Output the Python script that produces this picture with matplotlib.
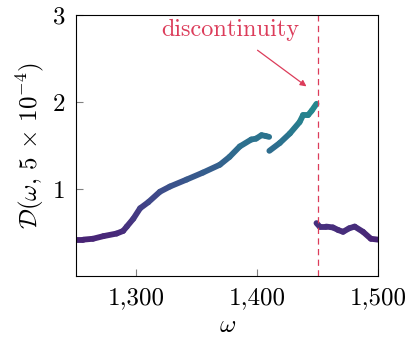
import matplotlib
matplotlib.use("Agg")
import matplotlib.pyplot as plt
import numpy as np
from matplotlib.collections import LineCollection
from matplotlib.ticker import FuncFormatter

plt.rcParams['font.family'] = 'cmr10'
plt.rcParams['mathtext.fontset'] = 'cm'
plt.rcParams['axes.unicode_minus'] = False
plt.rcParams['axes.formatter.use_mathtext'] = True

# three pieces of the curve
omega_a = [1250, 1256, 1264, 1272.6, 1283.6, 1289, 1292, 1297.4, 1303, 1309.8, 1319.4,
           1327.7, 1341.5, 1355, 1369, 1377, 1385.5, 1395, 1399, 1403.5, 1407, 1409.8]
d_a = [0.42, 0.42, 0.43, 0.46, 0.49, 0.52, 0.57, 0.66, 0.78, 0.85, 0.97,
       1.03, 1.11, 1.19, 1.28, 1.37, 1.49, 1.57, 1.58, 1.62, 1.61, 1.60]
omega_b = [1410, 1418.6, 1427, 1435, 1437.9, 1442, 1445, 1449]
d_b = [1.44, 1.53, 1.64, 1.77, 1.85, 1.85, 1.90, 1.98]
omega_c = [1449, 1451.6, 1457, 1462.6, 1467, 1471, 1476, 1480.6, 1487.5, 1494, 1500]
d_c = [0.61, 0.57, 0.57, 0.56, 0.53, 0.51, 0.55, 0.57, 0.51, 0.43, 0.42]

x_ticks = [1300, 1400, 1500]
y_ticks = [1, 2, 3]
omega_jump = 1450

fig, ax = plt.subplots(figsize=(4.11, 3.41), dpi=100)
fig.subplots_adjust(left=0.185, right=0.92, bottom=0.19, top=0.956)

norm = plt.Normalize(0, 4.2)
for xs, ys in [(omega_a, d_a), (omega_b, d_b), (omega_c, d_c)]:
    pts = np.column_stack([xs, ys]).reshape(-1, 1, 2)
    segs = np.concatenate([pts[:-1], pts[1:]], axis=1)
    mid = (np.array(ys[:-1]) + np.array(ys[1:])) / 2
    lc = LineCollection(segs, cmap='viridis', norm=norm, linewidths=4.2,
                        capstyle='round', joinstyle='round')
    lc.set_array(mid)
    ax.add_collection(lc)

red = '#dc3c5a'
ax.axvline(omega_jump, color=red, lw=0.9, dashes=(5, 3.5))
ax.annotate('discontinuity', xy=(1440.7, 2.18), xytext=(1377.3, 2.83),
            color=red, fontsize=17.5, ha='center', va='center',
            arrowprops=dict(arrowstyle='-|>', color=red, lw=0.9, shrinkA=8, shrinkB=0,
                            mutation_scale=9))

ax.set_xlim(1250, 1500)
ax.set_ylim(0, 3)
ax.set_xticks(x_ticks)
ax.set_yticks(y_ticks)
ax.xaxis.set_major_formatter(FuncFormatter(lambda v, p: f'{int(v):,}'))
ax.tick_params(direction='in', length=5, color='gray', labelsize=18, pad=8)
ax.set_xlabel(r'$\omega$', fontsize=18)
ax.set_ylabel(r'$\mathcal{D}(\omega,\,5\,\times\,10^{-4})$', fontsize=18)
for s in ax.spines.values():
    s.set_linewidth(0.8)

fig.savefig('out.png', dpi=100)
